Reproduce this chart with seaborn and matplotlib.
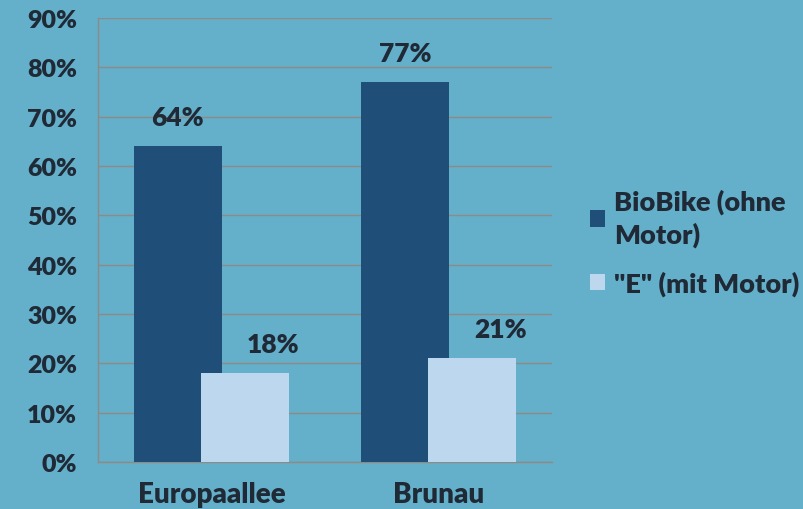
import pandas as pd
import matplotlib.pyplot as plt
import seaborn as sns
from matplotlib.ticker import PercentFormatter

# data
sites = ["Europaallee", "Brunau"]
bike_types = ["BioBike (ohne\nMotor)", '"E" (mit Motor)']
biobike = [64, 77]
ebike = [18, 21]
yticks = list(range(0, 100, 10))

df = pd.DataFrame({
    "site": sites * 2,
    "type": [bike_types[0]] * 2 + [bike_types[1]] * 2,
    "value": biobike + ebike,
})

bg = "#64AFCA"
dark = "#1F4E79"
light = "#BDD7EE"
txt = "#1F2A36"
grid = "#8E8A86"
wt = "heavy"

sns.set_style("white")
plt.rcParams["font.family"] = ["Lato", "DejaVu Sans"]
plt.rcParams["font.weight"] = wt

fig = plt.figure(figsize=(8.04, 5.10), dpi=100, facecolor=bg)
ax = fig.add_axes([0.1219, 0.0922, 0.5647, 0.8705])
ax.set_facecolor(bg)

sns.barplot(data=df, x="site", y="value", hue="type", order=sites,
            hue_order=bike_types, palette=[dark, light], width=0.78,
            saturation=1, ax=ax, zorder=3)

# Excel-style overlap: pull the two bars of each group together
n = len(sites)
for i, p in enumerate(ax.patches[:2 * n]):
    shift = 0.047 if i < n else -0.047
    p.set_x(p.get_x() + shift)
    p.set_linewidth(0)

# value labels
for i, p in enumerate(ax.patches[:2 * n]):
    val = p.get_height()
    xc = p.get_x() + p.get_width() / 2
    dx = 0 if i < n else 0.125
    ax.annotate(f"{val:.0f}%", (xc + dx, val), xytext=(0, 21),
                textcoords="offset points", ha="center", va="center",
                fontsize=19, fontweight=wt, color=txt)

ax.set_ylim(0, 90)
ax.set_xlim(-0.5, 1.5)
ax.set_yticks(yticks)
ax.yaxis.set_major_formatter(PercentFormatter(decimals=0))
ax.set_xticks([-0.5, 0.5, 1.5], minor=True)
ax.tick_params(axis="x", which="major", length=0, pad=14)
ax.tick_params(axis="x", which="minor", length=6, color=grid, direction="out")
ax.tick_params(axis="y", length=6, color=grid, direction="out", pad=9)
for lab in ax.get_yticklabels():
    lab.set_fontsize(18)
    lab.set_fontweight(wt)
    lab.set_color(txt)
for lab in ax.get_xticklabels():
    lab.set_fontsize(20)
    lab.set_fontweight(wt)
    lab.set_color(txt)
ax.grid(axis="y", color=grid, linewidth=1, zorder=0)
ax.set_axisbelow(True)
for s in ["top", "right"]:
    ax.spines[s].set_visible(False)
for s in ["left", "bottom"]:
    ax.spines[s].set_color(grid)
    ax.spines[s].set_linewidth(1)
ax.set_xlabel("")
ax.set_ylabel("")

leg = ax.legend(loc="center left", bbox_to_anchor=(1.03, 0.495), frameon=False,
                fontsize=19.5, handlelength=0.55, handleheight=0.55,
                handletextpad=0.35, labelspacing=0.85)
for h in leg.legend_handles:
    h.set_edgecolor("none")
for t in leg.get_texts():
    t.set_color(txt)
    t.set_fontweight(wt)
    t.set_linespacing(1.35)

fig.savefig("out.png", dpi=100, facecolor=bg)
